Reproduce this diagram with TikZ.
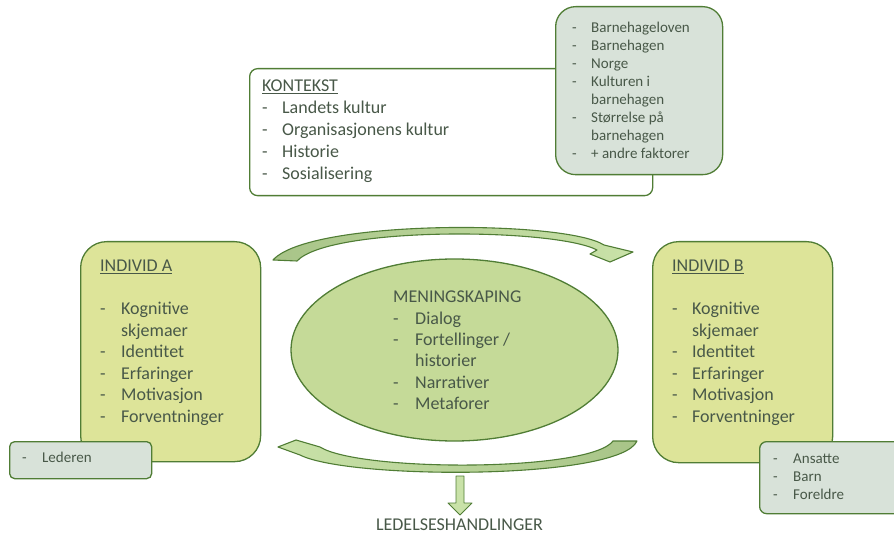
\documentclass[tikz,border=0pt]{standalone}
\usepackage{fontspec}
\setmainfont{Carlito}
\usetikzlibrary{shapes.geometric}
\usepackage{array}

\definecolor{edge}{RGB}{80,125,53}
\definecolor{ink}{RGB}{72,88,72}
\definecolor{limefill}{RGB}{221,228,153}
\definecolor{sagefill}{RGB}{216,226,217}
\definecolor{ovalfill}{RGB}{197,218,152}
\definecolor{arrdark}{RGB}{168,196,136}
\definecolor{arrlight}{RGB}{201,226,168}

% list of items: dash column, then the text column
\newcommand{\itemlist}[2]{\begin{tabular}[t]{@{}p{#1}@{}l@{}}#2\end{tabular}}
\newcommand{\hd}[1]{\multicolumn{2}{@{}l@{}}{#1}}

\begin{document}
\begin{tikzpicture}[x=1pt,y=-1pt,
  panel/.style={draw=edge, line width=1.3pt, anchor=north west, inner sep=0pt},
  whitebox/.style={panel, fill=white, rounded corners=8pt},
  sagebox/.style={panel, fill=sagefill},
  limebox/.style={panel, fill=limefill, rounded corners=26pt},
  txt/.style={anchor=base west, inner sep=0pt, text=ink},
  big/.style={font=\fontsize{18}{21.5}\selectfont},
  small/.style={font=\fontsize{15}{18}\selectfont},
  arcshape/.style={draw=edge, line width=1.1pt, line join=round}
]
\useasboundingbox (0,0) rectangle (894,534);
\clip (0,0) rectangle (894,534);

% context frame and its detail box
\node[whitebox, minimum width=403pt, minimum height=127pt] (ctx) at (249,68) {};
\node[sagebox, rounded corners=20pt, minimum width=167pt, minimum height=168pt] (ctxdet) at (555,6) {};

% the two individuals
\node[limebox, minimum width=180pt, minimum height=220pt] (inda) at (80,241) {};
\node[limebox, minimum width=180pt, minimum height=221pt] (indb) at (652,241) {};
\node[sagebox, rounded corners=5pt, minimum width=142pt, minimum height=37pt] (lead) at (9,441) {};
\node[sagebox, rounded corners=7pt, minimum width=160pt, minimum height=72pt] (staff) at (759,441) {};

% sensemaking oval
\node[ellipse, draw=edge, line width=1.3pt, fill=ovalfill, minimum width=327pt, minimum height=182pt, inner sep=0pt] (mean) at (454.5,350) {};

% curved arrow over the oval, left to right
\path[arcshape, left color=arrdark, right color=arrlight]
  (273,260) .. controls (310,219) and (565,220) .. (604,245)
  -- (633,252) -- (610,262) -- (590,254) -- (597,250)
  .. controls (555,228) and (330,226) .. (297,261) -- cycle;

% curved arrow under the oval, right to left
\path[arcshape, left color=arrlight, right color=arrdark]
  (613,441) -- (637,441)
  .. controls (620,480) and (350,480) .. (300,455)
  -- (278,447) -- (296,440) -- (320,447)
  .. controls (360,472) and (590,472) .. (613,441) -- cycle;

% outcome
\node[anchor=base, inner sep=0pt, text=ink, font=\fontsize{18}{20}\selectfont] (out) at (459.5,530.5) {LEDELSESHANDLINGER};
\path[arcshape, fill=arrlight, line width=0.9pt]
  (456,476) -- (464,476) -- (464,503) -- (472,503) -- (460,515)
  -- (448,503) -- (456,503) -- cycle;

% texts
\node[txt, font=\fontsize{18}{22}\selectfont] (ctxtxt) at (262,92) {\itemlist{20pt}{%
  \hd{\underline{KONTEKST}}\\
  - & Landets kultur\\
  - & Organisasjonens kultur\\
  - & Historie\\
  - & Sosialisering}};

\node[txt, small] (dettxt) at (572,33) {\itemlist{19pt}{%
  - & Barnehageloven\\
  - & Barnehagen\\
  - & Norge\\
  - & Kulturen i\\
    & barnehagen\\
  - & Størrelse på\\
    & barnehagen\\
  - & + andre faktorer}};

\node[txt, big] (atxt) at (100,272) {\itemlist{21pt}{%
  \hd{\underline{INDIVID A}}\\
  \hd{}\\
  - & Kognitive\\
    & skjemaer\\
  - & Identitet\\
  - & Erfaringer\\
  - & Motivasjon\\
  - & Forventninger}};

\node[txt, big] (btxt) at (672,272) {\itemlist{20pt}{%
  \hd{\underline{INDIVID B}}\\
  \hd{}\\
  - & Kognitive\\
    & skjemaer\\
  - & Identitet\\
  - & Erfaringer\\
  - & Motivasjon\\
  - & Forventninger}};

\node[txt, font=\fontsize{18}{21.3}\selectfont] (mtxt) at (393,303) {\itemlist{22pt}{%
  \hd{MENINGSKAPING}\\
  - & Dialog\\
  - & Fortellinger /\\
    & historier\\
  - & Narrativer\\
  - & Metaforer}};

\node[txt, small] (leadtxt) at (22,462) {\itemlist{20pt}{- & Lederen}};

\node[txt, small] (stafftxt) at (773,463) {\itemlist{20pt}{%
  - & Ansatte\\
  - & Barn\\
  - & Foreldre}};
\end{tikzpicture}
\end{document}
